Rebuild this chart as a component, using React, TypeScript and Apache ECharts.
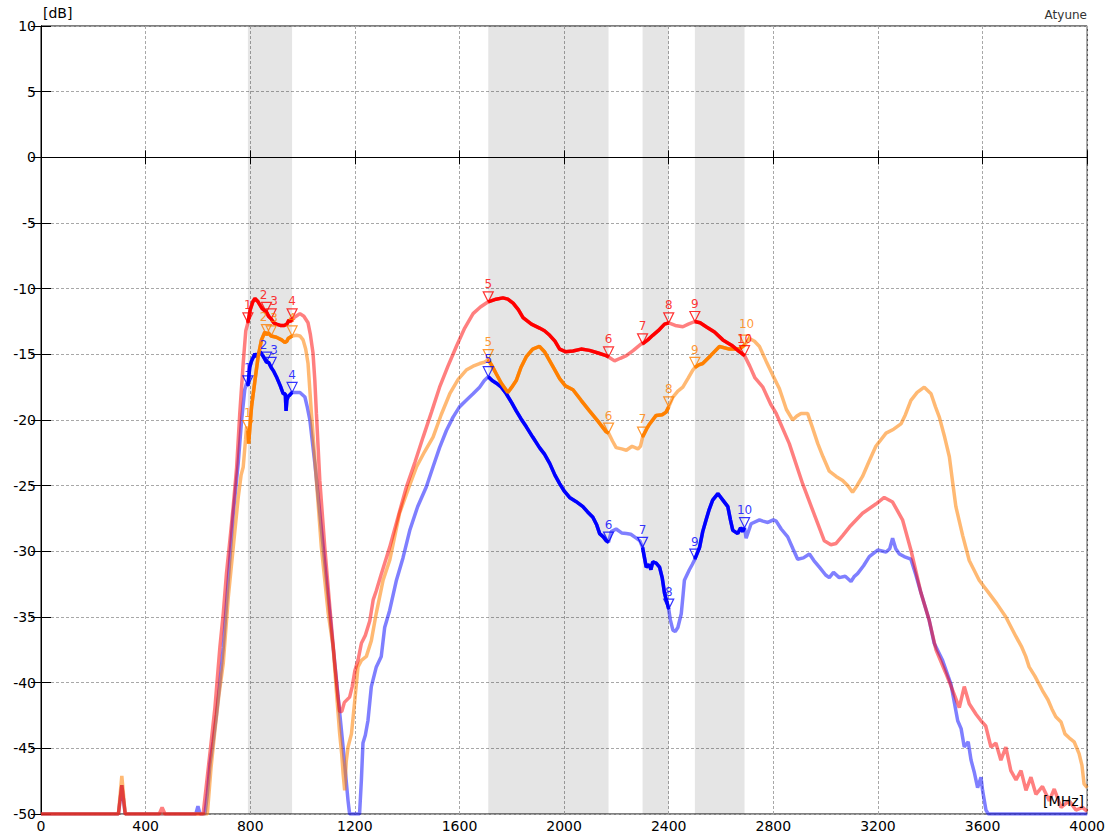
import React, { useEffect, useRef } from "react";
import * as echarts from "echarts";

type Pt = [number, number];

const X_TICKS = { min: 0, max: 4000, interval: 400 };
const Y_TICKS = { min: -50, max: 10, interval: 5 };

const BANDS: Pt[] = [
  [791, 960],
  [1710, 2170],
  [2300, 2400],
  [2500, 2690],
];

const MARKER_FREQS = [791, 862, 880, 960, 1710, 2170, 2300, 2400, 2500, 2690];

const RED: Pt[] = [
  [0, -50], [296, -50], [309, -47.8], [322, -50], [452, -50], [463, -49.5], [474, -50],
  [620, -50], [634, -47.5], [648, -45], [665, -41.9], [684, -37.3], [697, -34.7], [709, -31.7],
  [722, -29.2], [735, -26.6], [748, -23.6], [760, -19.5], [773, -15.7], [783, -13.2],
  [791, -12.6], [800, -11.6], [810, -11.0], [818, -10.75], [830, -11.0], [845, -11.5],
  [862, -11.8], [870, -12.1], [880, -12.3], [890, -12.6], [900, -12.7], [915, -12.8],
  [930, -12.8], [940, -12.7], [948, -12.4], [955, -12.5], [960, -12.3], [975, -12.1],
  [990, -11.9], [1005, -12.1], [1021, -12.6], [1030, -13.5], [1040, -14.9], [1047, -17],
  [1053, -19.5], [1066, -24.6], [1085, -29.7], [1104, -34.2], [1123, -38.5], [1135, -41],
  [1142, -42.2], [1150, -42.2], [1160, -41.5], [1180, -41.1], [1190, -40.3], [1200, -39.1],
  [1212, -38.3], [1225, -37.0], [1240, -36.4], [1257, -35.3], [1270, -33.7], [1282, -33],
  [1300, -31.8], [1314, -30.9], [1333, -29.7], [1365, -27.4], [1397, -25.1], [1430, -23.2],
  [1461, -21.3], [1493, -19.4], [1524, -17.5], [1556, -15.9], [1588, -14.4], [1620, -13.0],
  [1652, -11.9], [1680, -11.4], [1710, -11.0], [1740, -10.8], [1766, -10.7], [1785, -10.8],
  [1805, -11.1], [1825, -11.6], [1843, -12.2], [1875, -12.7], [1906, -13.0], [1925, -13.2],
  [1945, -13.55], [1965, -14.0], [1983, -14.6], [2005, -14.8], [2034, -14.75], [2065, -14.6],
  [2097, -14.7], [2130, -14.9], [2161, -15.1], [2170, -15.2], [2193, -15.5], [2215, -15.3],
  [2238, -15.1], [2265, -14.7], [2295, -14.2], [2300, -14.2], [2320, -13.9], [2339, -13.55],
  [2360, -13.2], [2384, -12.7], [2400, -12.6], [2425, -12.8], [2454, -12.9], [2475, -12.7],
  [2500, -12.5], [2520, -12.6], [2543, -12.9], [2575, -13.3], [2607, -13.9], [2640, -14.3],
  [2670, -14.8], [2690, -15.1], [2710, -15.9], [2730, -16.8], [2760, -17.5], [2790, -18.8],
  [2811, -19.5], [2861, -21.8], [2912, -24.85], [2951, -26.9], [2995, -29.2], [3020, -29.5],
  [3040, -29.4], [3065, -28.8], [3091, -28.15], [3141, -27.1], [3192, -26.4], [3224, -25.9],
  [3256, -26.25], [3294, -27.6], [3326, -29.9], [3365, -33.2], [3396, -35.25], [3422, -37.5],
  [3460, -39.3], [3486, -40.6], [3511, -41.9], [3530, -40.3], [3549, -41.6], [3575, -42.4],
  [3594, -42.9], [3612, -43.3], [3632, -44.9], [3651, -44.6], [3670, -45.9], [3689, -44.9],
  [3708, -46.7], [3728, -47.4], [3747, -46.7], [3766, -48.2], [3785, -47.2], [3804, -48.5],
  [3829, -47.9], [3855, -49.0], [3874, -48.1], [3900, -49.5], [3931, -49.0], [3957, -49.7],
  [3982, -49.5], [4000, -49.8],
];

const ORANGE: Pt[] = [
  [0, -50], [296, -50], [309, -47.1], [322, -50], [636, -50], [650, -46.5], [665, -43.6],
  [680, -41], [697, -38.5], [716, -33.5], [735, -29.7], [754, -25.9], [765, -24.2],
  [773, -23.6], [782, -21.5], [786, -20.5], [791, -20.8], [794, -21.8], [800, -20.2],
  [805, -19.0], [818, -17.0], [830, -15.2], [843, -13.9], [856, -13.3], [862, -13.5],
  [870, -13.4], [880, -13.6], [900, -13.7], [920, -13.9], [932, -14.1], [940, -14.0],
  [945, -13.8], [960, -13.6], [977, -13.55], [990, -13.6], [1002, -13.9], [1012, -14.6],
  [1021, -15.7], [1034, -19.5], [1053, -24.6], [1072, -29.7], [1098, -34.7], [1117, -37.3],
  [1130, -40.8], [1142, -43.9], [1150, -45.5], [1155, -46.9], [1161, -48.2], [1167, -46],
  [1174, -44.9], [1187, -43.9], [1200, -41.3], [1212, -38.8], [1225, -38.3], [1244, -38.0],
  [1263, -36.8], [1282, -34.7], [1308, -32.2], [1333, -30.7], [1371, -27.1], [1405, -25.2],
  [1435, -23.6], [1467, -22.4], [1499, -21.3], [1530, -19.6], [1563, -18.0], [1595, -16.9],
  [1626, -16.2], [1652, -15.9], [1677, -15.7], [1695, -15.6], [1710, -15.4], [1725, -15.9],
  [1741, -16.5], [1760, -17.2], [1785, -17.9], [1800, -17.5], [1817, -17.0], [1835, -16.0],
  [1855, -15.2], [1880, -14.6], [1906, -14.4], [1925, -14.8], [1945, -15.5], [1965, -16.2],
  [1983, -16.85], [2005, -17.4], [2034, -17.7], [2065, -18.5], [2097, -19.3], [2130, -20.1],
  [2161, -20.9], [2170, -21.0], [2185, -21.6], [2199, -22.1], [2220, -22.2], [2238, -22.3],
  [2260, -22.0], [2282, -22.2], [2292, -22.0], [2300, -21.3], [2315, -20.7], [2327, -20.3],
  [2352, -19.65], [2375, -19.6], [2390, -19.4], [2400, -19.0], [2416, -18.25], [2435, -17.8],
  [2454, -17.5], [2475, -16.8], [2492, -16.2], [2500, -16.0], [2515, -15.8], [2530, -15.7],
  [2560, -15.1], [2594, -14.4], [2632, -14.6], [2670, -14.6], [2690, -14.3], [2709, -13.8],
  [2728, -14.0], [2747, -14.4], [2772, -15.5], [2798, -16.6], [2823, -17.6], [2850, -19.2],
  [2874, -20.0], [2890, -19.7], [2906, -19.5], [2931, -19.5], [2950, -20.6], [2970, -21.8],
  [2990, -22.8], [3014, -23.9], [3040, -24.3], [3065, -24.6], [3085, -25.0], [3103, -25.5],
  [3120, -25.0], [3141, -24.3], [3165, -23.2], [3192, -22.0], [3231, -21.0], [3260, -20.7],
  [3288, -20.3], [3305, -19.6], [3326, -18.5], [3350, -17.9], [3377, -17.5], [3403, -18.0],
  [3420, -19.0], [3435, -19.8], [3455, -21.3], [3473, -22.8], [3486, -24.8], [3498, -26.6],
  [3524, -28.8], [3549, -30.7], [3587, -32.2], [3625, -33.2], [3655, -34.0], [3689, -35.0],
  [3728, -36.5], [3750, -37.3], [3765, -38.0], [3778, -38.8], [3800, -39.5], [3829, -40.6],
  [3850, -41.3], [3865, -42.0], [3880, -42.6], [3900, -43.0], [3915, -43.9], [3931, -44.2],
  [3950, -44.5], [3969, -45.4], [3980, -46.3], [3988, -47.7], [4000, -48.0],
];

const BLUE: Pt[] = [
  [0, -50], [296, -50], [309, -47.8], [322, -50], [592, -50], [600, -49.4], [608, -50],
  [627, -50], [636, -48.5], [646, -46.2], [658, -44.5], [671, -42.4], [684, -40], [697, -37.3],
  [716, -32.2], [735, -27.1], [754, -23.3], [767, -20.0], [779, -17.7], [786, -17.2],
  [791, -17.4], [795, -16.6], [798, -16.0], [805, -15.5], [818, -14.95], [825, -15.2],
  [837, -14.8], [848, -15.1], [862, -15.6], [870, -15.6], [880, -16.0], [890, -16.3],
  [900, -16.7], [915, -17.4], [926, -18.0], [934, -18.0], [937, -19.3], [940, -18.5],
  [945, -18.2], [951, -18.1], [960, -17.9], [975, -17.9], [990, -17.9], [1009, -18.25],
  [1018, -19.0], [1028, -20.0], [1047, -23.3], [1060, -25.9], [1079, -29.7], [1098, -33.5],
  [1117, -37.3], [1136, -41.1], [1155, -44.9], [1174, -49.0], [1180, -50], [1218, -50],
  [1225, -47.4], [1231, -44.6], [1240, -44], [1250, -42.9], [1263, -40.3], [1282, -38.8],
  [1301, -38.0], [1314, -35.8], [1333, -34.5], [1359, -32.2], [1384, -30.5], [1410, -28.4],
  [1440, -26.6], [1473, -25.1], [1500, -23.5], [1524, -22.1], [1550, -20.8], [1575, -19.8],
  [1600, -19.0], [1626, -18.5], [1652, -18.0], [1677, -17.5], [1695, -17.0], [1710, -16.7],
  [1725, -17.0], [1741, -17.2], [1760, -17.5], [1779, -18.0], [1800, -18.7], [1817, -19.3],
  [1835, -19.9], [1855, -20.5], [1880, -21.3], [1906, -22.1], [1925, -22.6], [1945, -23.3],
  [1965, -24.2], [1983, -24.85], [2000, -25.4], [2021, -25.9], [2045, -26.2], [2072, -26.6],
  [2090, -27.0], [2110, -27.4], [2125, -28.0], [2136, -28.65], [2150, -28.9], [2161, -29.2],
  [2170, -29.3], [2180, -28.5], [2199, -28.3], [2220, -28.6], [2238, -28.65], [2255, -28.7],
  [2276, -29.0], [2290, -29.2], [2300, -29.7], [2314, -31.2], [2325, -31.0], [2332, -31.4],
  [2339, -30.8], [2352, -30.9], [2365, -31.2], [2375, -32.0], [2384, -33.2], [2395, -34.0],
  [2400, -34.4], [2406, -35.2], [2416, -36.0], [2425, -36.1], [2435, -35.8], [2448, -34.75],
  [2455, -33.3], [2460, -32.2], [2479, -31.4], [2490, -31.0], [2500, -30.6], [2518, -29.7],
  [2530, -28.5], [2543, -27.6], [2555, -26.8], [2568, -26.1], [2588, -25.6], [2607, -26.1],
  [2626, -26.6], [2636, -27.6], [2645, -28.4], [2664, -28.65], [2675, -28.2], [2683, -28.5],
  [2690, -28.2], [2696, -29.0], [2715, -27.9], [2747, -27.6], [2760, -27.7], [2779, -27.8],
  [2800, -27.6], [2811, -27.7], [2830, -28.3], [2855, -28.9], [2875, -29.8], [2893, -30.6],
  [2915, -30.5], [2938, -30.2], [2955, -30.7], [2976, -31.2], [3000, -31.8], [3014, -32.0],
  [3030, -31.6], [3052, -32.0], [3075, -31.9], [3097, -32.3], [3110, -31.9], [3122, -31.7],
  [3145, -31.1], [3167, -30.4], [3199, -29.9], [3231, -30.05], [3245, -29.8], [3256, -29.0],
  [3268, -29.8], [3282, -30.2], [3300, -30.4], [3326, -30.6], [3345, -31.8], [3365, -33.2],
  [3396, -35.25], [3415, -37.0], [3447, -38.3], [3479, -40.1], [3505, -42.9], [3518, -43.5],
  [3530, -44.9], [3545, -44.5], [3556, -45.9], [3568, -46.8], [3581, -48.0], [3594, -47.2],
  [3600, -48.2], [3613, -49.7], [3622, -50], [4000, -50],
];

// label nudges (marker index -> [dx, dy]) so overlapping marker numbers stay readable
const BLUE_NUDGE: Record<number, [number, number]> = { 1: [-3, 0], 2: [3, 0] };
const ORANGE_NUDGE: Record<number, [number, number]> = { 1: [-3, 0], 2: [3, 0], 9: [2, -4] };
const RED_NUDGE: Record<number, [number, number]> = { 1: [-3, 0], 2: [3, 0], 9: [0, 1] };

const CURVES = [
  { name: "blue", data: BLUE, color: "#0000ff", labelColor: "#0000ff", lightOpacity: 0.5, nudge: BLUE_NUDGE },
  { name: "orange", data: ORANGE, color: "#ff8000", labelColor: "#ff8000", lightOpacity: 0.55, nudge: ORANGE_NUDGE },
  { name: "red", data: RED, color: "#ff0000", labelColor: "#ff0000", lightOpacity: 0.5, nudge: RED_NUDGE },
];

const FONT = "DejaVu Sans, Verdana, sans-serif";

function valueAt(data: Pt[], f: number): number {
  const p = data.find((d) => d[0] === f);
  return p ? p[1] : NaN;
}

export default function App() {
  const ref = useRef<HTMLDivElement>(null);

  useEffect(() => {
    if (!ref.current) return;
    const chart = echarts.init(ref.current, undefined, { renderer: "svg" });

    const series: any[] = [];

    CURVES.forEach((c, idx) => {
      const s: any = {
        type: "line",
        name: c.name + "-light",
        data: c.data,
        showSymbol: false,
        symbol: "none",
        lineStyle: { color: c.color, width: 3.5, opacity: c.lightOpacity },
        z: 3,
        silent: true,
      };
      if (idx === 0) {
        s.markArea = {
          silent: true,
          itemStyle: { color: "rgba(0,0,0,0.1)" },
          data: BANDS.map((b) => [{ xAxis: b[0] }, { xAxis: b[1] }]),
        };
        s.markLine = {
          silent: true,
          symbol: ["none", "none"],
          label: { show: false },
          lineStyle: { color: "#000", type: "solid", width: 1 },
          data: [{ yAxis: 0 }],
        };
      }
      series.push(s);
    });

    CURVES.forEach((c) => {
      BANDS.forEach((b, bi) => {
        series.push({
          type: "line",
          name: c.name + "-bold-" + bi,
          data: c.data.filter((d) => d[0] >= b[0] && d[0] <= b[1]),
          showSymbol: false,
          symbol: "none",
          lineStyle: { color: c.color, width: 3.5 },
          z: 4,
          silent: true,
        });
      });
    });

    CURVES.forEach((c) => {
      series.push({
        type: "scatter",
        name: c.name + "-markers",
        data: MARKER_FREQS.map((f, i) => {
          const item: any = {
            name: String(i + 1),
            value: [f, valueAt(c.data, f)],
          };
          if (c.nudge[i]) item.label = { offset: c.nudge[i] };
          return item;
        }),
        symbol: "path://M0,0 L10,0 L5,10 Z",
        symbolSize: [10, 10],
        symbolOffset: [0, -5],
        itemStyle: { color: "rgba(255,255,255,0)", borderColor: c.labelColor, borderWidth: 1.2 },
        label: {
          show: true,
          position: "top",
          distance: 1,
          formatter: "{b}",
          color: c.labelColor,
          fontSize: 12,
          fontFamily: FONT,
        },
        z: 5,
        silent: true,
      });
    });

    const axisLine = { show: true, lineStyle: { color: "#000", width: 1 } };
    const plain = (v: number) => String(v);

    chart.setOption({
      animation: false,
      backgroundColor: "#fff",
      grid: {
        left: 41,
        right: 20,
        top: 26,
        bottom: 22,
        show: true,
        borderColor: "#000",
        borderWidth: 1,
        backgroundColor: "transparent",
      },
      xAxis: [
        {
          type: "value",
          position: "bottom",
          min: X_TICKS.min,
          max: X_TICKS.max,
          interval: X_TICKS.interval,
          axisLine,
          axisTick: { show: true, inside: true, length: 7, lineStyle: { color: "#000" } },
          axisLabel: { color: "#000", fontSize: 14, fontFamily: FONT, margin: 5, formatter: plain },
          splitLine: { show: true, lineStyle: { color: "#a8a8a8", type: [3, 2], width: 1 } },
        },
        {
          type: "value",
          position: "top",
          min: X_TICKS.min,
          max: X_TICKS.max,
          interval: X_TICKS.interval,
          axisLine,
          axisTick: { show: true, inside: true, length: 7, lineStyle: { color: "#000" } },
          axisLabel: { show: false },
          splitLine: { show: false },
        },
      ],
      yAxis: [
        {
          type: "value",
          position: "left",
          min: Y_TICKS.min,
          max: Y_TICKS.max,
          interval: Y_TICKS.interval,
          axisLine,
          axisTick: { show: true, inside: true, length: 10, lineStyle: { color: "#000" } },
          axisLabel: { color: "#000", fontSize: 14, fontFamily: FONT, margin: 5, formatter: plain },
          splitLine: { show: true, lineStyle: { color: "#a8a8a8", type: [3, 2], width: 1 } },
        },
        {
          type: "value",
          position: "right",
          min: Y_TICKS.min,
          max: Y_TICKS.max,
          interval: Y_TICKS.interval,
          axisLine,
          axisTick: { show: true, inside: true, length: 10, lineStyle: { color: "#000" } },
          axisLabel: { show: false },
          splitLine: { show: false },
        },
      ],
      graphic: [
        {
          type: "text",
          left: 43,
          top: 6,
          z: 10,
          style: { text: "[dB]", fontSize: 14, fontFamily: FONT, fill: "#000" },
        },
        {
          type: "text",
          right: 21,
          top: 9,
          z: 10,
          style: { text: "Atyune", fontSize: 12, fontFamily: FONT, fill: "#333" },
        },
        {
          type: "text",
          right: 24,
          top: 794,
          z: 10,
          style: { text: "[MHz]", fontSize: 14, fontFamily: FONT, fill: "#000" },
        },
      ],
      series,
    });

    return () => {
      chart.dispose();
    };
  }, []);

  return (
    <div
      ref={ref}
      style={{ position: "absolute", left: 0, top: 0, width: 1108, height: 836 }}
    />
  );
}
